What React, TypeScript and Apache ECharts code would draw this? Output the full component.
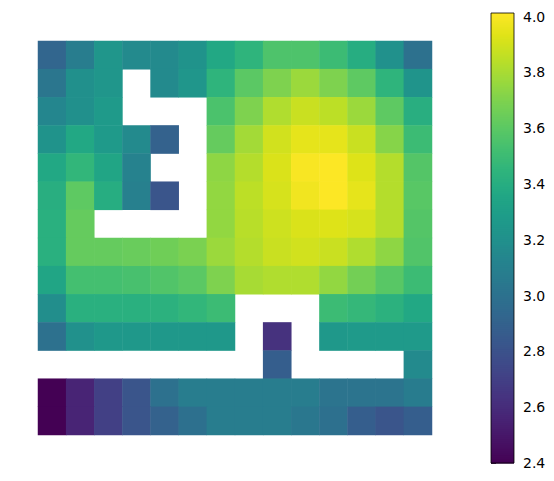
import React, { useEffect, useRef } from "react";
import * as echarts from "echarts";

const xCategories = ["0", "1", "2", "3", "4", "5", "6", "7", "8", "9", "10", "11", "12", "13"];
const yCategories = ["0", "1", "2", "3", "4", "5", "6", "7", "8", "9", "10", "11", "12", "13"];

const row0 = [2.93, 3.08, 3.24, 3.16, 3.16, 3.22, 3.37, 3.45, 3.56, 3.56, 3.5, 3.4, 3.21, 3.0];
const row1 = [3.03, 3.2, 3.24, null, 3.16, 3.24, 3.45, 3.6, 3.7, 3.77, 3.7, 3.61, 3.45, 3.23];
const row2 = [3.14, 3.2, 3.27, null, null, null, 3.55, 3.7, 3.82, 3.88, 3.85, 3.77, 3.61, 3.41];
const row3 = [3.22, 3.37, 3.27, 3.16, 2.9, null, 3.63, 3.79, 3.9, 3.95, 3.95, 3.88, 3.72, 3.5];
const row4 = [3.37, 3.46, 3.35, 3.11, null, null, 3.74, 3.83, 3.92, 4.0, 4.01, 3.93, 3.83, 3.58];
const row5 = [3.41, 3.61, 3.4, 3.1, 2.82, null, 3.75, 3.85, 3.91, 3.98, 4.01, 3.95, 3.83, 3.59];
const row6 = [3.42, 3.63, null, null, null, null, 3.75, 3.84, 3.89, 3.92, 3.93, 3.91, 3.83, 3.58];
const row7 = [3.42, 3.63, 3.63, 3.64, 3.66, 3.69, 3.77, 3.83, 3.88, 3.9, 3.88, 3.82, 3.74, 3.57];
const row8 = [3.35, 3.53, 3.53, 3.54, 3.57, 3.6, 3.7, 3.8, 3.82, 3.82, 3.75, 3.67, 3.59, 3.5];
const row9 = [3.19, 3.42, 3.42, 3.42, 3.43, 3.46, 3.5, null, null, null, 3.5, 3.47, 3.43, 3.37];
const row10 = [3.0, 3.21, 3.26, 3.26, 3.26, 3.26, 3.26, null, 2.63, null, 3.26, 3.27, 3.27, 3.27];
const row11 = [null, null, null, null, null, null, null, null, 2.88, null, null, null, null, 3.16];
const row12 = [2.4, 2.56, 2.7, 2.82, 3.0, 3.08, 3.08, 3.08, 3.08, 3.08, 3.02, 3.02, 3.02, 3.07];
const row13 = [2.4, 2.56, 2.7, 2.82, 2.9, 2.99, 3.08, 3.08, 3.08, 3.04, 2.99, 2.88, 2.82, 2.88];

const rows = [row0, row1, row2, row3, row4, row5, row6, row7, row8, row9, row10, row11, row12, row13];

const colorbarTicks = [2.4, 2.6, 2.8, 3.0, 3.2, 3.4, 3.6, 3.8, 4.0];
const valueMin = 2.4;
const valueMax = 4.013;

const viridis = [
  "#440154", "#471365", "#482475", "#463480", "#414487", "#3b528b", "#355f8d",
  "#2f6c8e", "#2a788e", "#25848e", "#21918c", "#1e9c89", "#22a884", "#2fb47c",
  "#44bf70", "#5ec962", "#7ad151", "#9bd93c", "#bddf26", "#dfe318", "#fde725",
];

export default function App() {
  const ref = useRef<HTMLDivElement>(null);
  useEffect(() => {
    if (!ref.current) return;
    const chart = echarts.init(ref.current, undefined, { renderer: "svg" });
    const data: [number, number, number][] = [];
    rows.forEach((r, yi) =>
      r.forEach((v, xi) => {
        if (v !== null && v !== undefined) data.push([xi, yi, v as number]);
      })
    );
    // colorbar drawn as thin solid strips (visual only)
    const barX = 491;
    const barY = 13;
    const barW = 23;
    const barH = 450;
    const strips = 225;
    const stripH = barH / strips;
    const stripEls: any[] = [];
    for (let i = 0; i < strips; i++) {
      const t = (i + 0.5) / strips; // from bottom
      const c = (echarts as any).color.lerp(t, viridis);
      stripEls.push({
        type: "rect",
        shape: { x: barX, y: barY + barH - (i + 1) * stripH, width: barW, height: stripH + 0.6 },
        style: { fill: c },
        silent: true,
        z: 90,
      });
    }
    chart.setOption({
      animation: false,
      backgroundColor: "#ffffff",
      grid: [
        { left: 38, top: 41, width: 394, height: 394 },
        { left: 491, top: 16.7, width: 23, height: 446.3 },
      ],
      xAxis: [
        { type: "category", data: xCategories, gridIndex: 0, show: false },
        { type: "value", gridIndex: 1, show: false },
      ],
      yAxis: [
        { type: "category", data: yCategories, gridIndex: 0, inverse: true, show: false },
        {
          type: "value",
          gridIndex: 1,
          position: "right",
          min: colorbarTicks[0],
          max: colorbarTicks[colorbarTicks.length - 1],
          interval: 0.2,
          axisLine: { show: false },
          axisTick: { show: true, length: 5, lineStyle: { color: "#000", width: 0.8 } },
          splitLine: { show: false },
          axisLabel: {
            margin: 9,
            color: "#000",
            fontSize: 14,
            fontFamily: "DejaVu Sans",
            formatter: (v: number) => v.toFixed(1),
          },
        },
      ],
      visualMap: {
        type: "continuous",
        min: valueMin,
        max: valueMax,
        show: false,
        seriesIndex: 0,
        inRange: { color: viridis },
      },
      graphic: [
        ...stripEls,
        {
          type: "rect",
          shape: { x: barX, y: barY, width: barW, height: barH },
          style: { fill: "none", stroke: "#000", lineWidth: 0.8 },
          silent: true,
          z: 100,
        },
      ],
      series: [
        {
          type: "heatmap",
          xAxisIndex: 0,
          yAxisIndex: 0,
          data,
          itemStyle: { borderWidth: 0 },
          emphasis: { disabled: true },
        },
      ],
    });
    return () => chart.dispose();
  }, []);
  return <div ref={ref} style={{ width: 554, height: 481, margin: -8 }} />;
}
